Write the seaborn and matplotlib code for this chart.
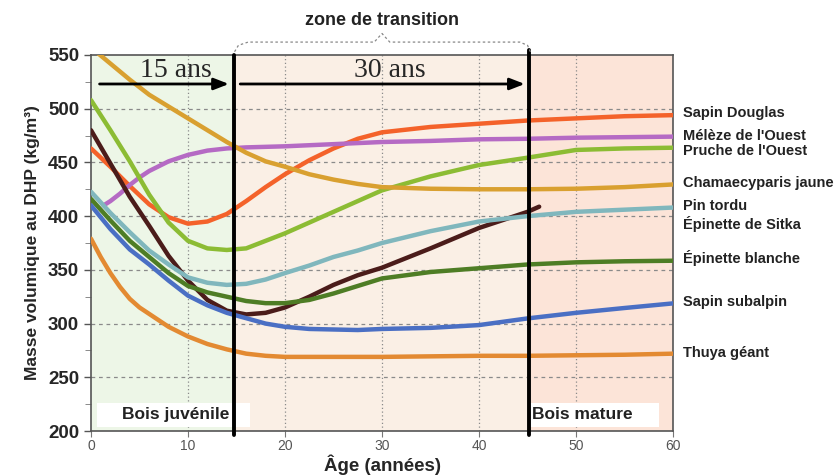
import pandas as pd
import matplotlib as mpl
import matplotlib.pyplot as plt
import numpy as np
import seaborn as sns
from matplotlib.patches import Rectangle
from matplotlib.ticker import MultipleLocator

sns.set_style("ticks")
plt.rcParams['font.family'] = ['Liberation Sans', 'DejaVu Sans']

# values (age in years, density in kg/m3)
age = [0, 2, 4, 6, 8, 10, 12, 14, 16, 18, 20, 22.5, 25, 27.5, 30, 35, 40, 45, 50, 55, 60]
douglas = [463, 446, 428, 411, 399, 393, 395, 402, 414, 427, 439, 452, 463, 472, 478, 483, 486, 489, 491, 493, 494]
pruche = [508, 480, 451, 420, 394, 377, 370, 368.5, 370, 377, 384, 394, 404, 414, 424, 437, 447.6, 454.4, 461.6, 463, 463.7]
chamae = [557, 542, 527, 513, 502, 491, 480, 469, 459, 451, 446, 439, 434, 430, 427, 425.5, 425, 425, 425.5, 427, 429.5]
sitka = [422.7, 403, 385, 368, 355, 343, 338, 336, 337, 341, 347, 354, 362, 368, 375, 386, 395, 400, 404, 406, 408]
blanche = [416, 396, 377, 362, 347, 335, 329, 325, 321, 319, 319, 322, 328, 335, 342, 348, 351.5, 355, 357, 358, 358.5]
subalpin = [410, 388, 369, 355, 340, 326, 317, 310, 305, 300, 297, 295, 294.5, 294, 295, 296, 298.6, 304.8, 310, 314.5, 318.8]

meleze_age = [1.3, 2, 3, 4, 5, 6, 8, 10, 12, 14, 16, 18, 20, 25, 30, 35, 40, 45, 50, 55, 60]
meleze = [410, 414, 421, 429, 436, 442, 451, 457, 461, 463, 464, 464.5, 465, 467, 469, 470, 471.5, 472, 473, 473.5, 474]

pin_age = [0, 2, 4, 6, 8, 10, 12, 14, 16, 18, 20, 22.5, 25, 27.5, 30, 35, 40, 45, 46.2]
pin = [480, 449, 418, 391, 363, 340, 322, 312, 308.5, 310, 315, 325, 336, 345, 352, 370, 389, 404, 408.8]

thuya_age = [0, 1, 2, 3, 4, 5, 6, 8, 10, 12, 14, 16, 18, 20, 25, 30, 35, 40, 45, 50, 55, 60]
thuya = [379, 362, 347, 334, 323, 315, 309, 297, 288, 281, 276, 272, 270, 269, 269, 269, 269.5, 270, 270, 270.5, 271, 272]

species = ["Sapin Douglas", "Mélèze de l'Ouest", "Pruche de l'Ouest", "Chamaecyparis jaune",
           "Pin tordu", "Épinette de Sitka", "Épinette blanche", "Sapin subalpin", "Thuya géant"]

series = {
    "Sapin Douglas": (age, douglas),
    "Mélèze de l'Ouest": (meleze_age, meleze),
    "Pruche de l'Ouest": (age, pruche),
    "Chamaecyparis jaune": (age, chamae),
    "Pin tordu": (pin_age, pin),
    "Épinette de Sitka": (age, sitka),
    "Épinette blanche": (age, blanche),
    "Sapin subalpin": (age, subalpin),
    "Thuya géant": (thuya_age, thuya),
}
colors = {
    "Sapin Douglas": "#f4622a",
    "Mélèze de l'Ouest": "#b56ac4",
    "Pruche de l'Ouest": "#8cbc34",
    "Chamaecyparis jaune": "#d9a030",
    "Pin tordu": "#4b1c1a",
    "Épinette de Sitka": "#80b7bd",
    "Épinette blanche": "#4e7d25",
    "Sapin subalpin": "#4a6fc4",
    "Thuya géant": "#e38a32",
}

rows = []
for name in species:
    xs, ys = series[name]
    for x, y in zip(xs, ys):
        rows.append({"age": x, "densite": y, "espece": name})
df = pd.DataFrame(rows)

fig = plt.figure(figsize=(8.37, 4.76), dpi=100)
ax = fig.add_axes([0.1087, 0.0945, 0.6954, 0.79])

# zones
ax.axvspan(0, 14.7, color="#edf6e7", lw=0, zorder=0)
ax.axvspan(14.7, 45.2, color="#faefe5", lw=0, zorder=0)
ax.axvspan(45.2, 60, color="#fce4d8", lw=0, zorder=0)

for yy in range(250, 550, 50):
    ax.axhline(yy, color="#8a8a8a", lw=0.9, ls=(0, (3, 3)), zorder=1)
for xx in range(10, 60, 10):
    ax.axvline(xx, color="#8a8a8a", lw=0.9, ls=(0, (1, 2)), zorder=1)

sns.lineplot(data=df, x="age", y="densite", hue="espece", hue_order=species,
             palette=colors, lw=3.2, legend=False, ax=ax, sort=False, zorder=3)

ax.set_xlim(0, 60)
ax.set_ylim(200, 550)
ax.xaxis.set_major_locator(MultipleLocator(10))
ax.yaxis.set_major_locator(MultipleLocator(50))
ax.yaxis.set_minor_locator(MultipleLocator(25))
ax.tick_params(axis="y", labelsize=13.5, length=5, width=1, color="#555")
ax.tick_params(axis="y", which="minor", length=4, color="#777")
ax.tick_params(axis="x", labelsize=10, length=4, color="#777", labelcolor="#555", pad=2)
for lab in ax.get_yticklabels():
    lab.set_fontweight("bold")
for sp in ax.spines.values():
    sp.set_visible(True)
    sp.set_color("#555")
    sp.set_linewidth(1.2)

ax.set_xlabel("Âge (années)", fontsize=13.5, fontweight="bold", labelpad=1)
ax.set_ylabel("Masse volumique au DHP (kg/m³)", fontsize=12.5, fontweight="bold", labelpad=6)

# species labels on the right
label_y = [496, 474.6, 460.6, 430.8, 409.4, 392.7, 361, 320, 272.5]
for name, yy in zip(species, label_y):
    ax.text(61.0, yy, name, fontsize=10.5, fontweight="bold", va="center", ha="left",
            color="#222", clip_on=False)

# zone boxes
ax.add_patch(Rectangle((0.6, 204), 15.8, 22, fc="white", ec="none", zorder=4))
ax.text(3.2, 215.5, "Bois juvénile", fontsize=12.5, fontweight="bold", va="center", color="#222", zorder=5)
ax.add_patch(Rectangle((45.3, 204), 13.3, 22, fc="white", ec="none", zorder=4))
ax.text(45.5, 215.5, "Bois mature", fontsize=12.5, fontweight="bold", va="center", color="#222", zorder=5)

# transition limits
ax.plot([14.7, 14.7], [196, 550], color="black", lw=2.8, clip_on=False, zorder=6)
ax.plot([45.2, 45.2], [196, 555], color="black", lw=2.8, clip_on=False, zorder=6)

ax.annotate("", xy=(14.5, 523), xytext=(0.6, 523),
            arrowprops=dict(arrowstyle="-|>,head_length=0.9,head_width=0.35", color="black", lw=2),
            zorder=7)
ax.annotate("", xy=(45.0, 523), xytext=(15.1, 523),
            arrowprops=dict(arrowstyle="-|>,head_length=0.9,head_width=0.35", color="black", lw=2),
            zorder=7)
ax.text(8.7, 536, "15 ans", family="Liberation Serif", fontsize=20, ha="center", va="center", zorder=7)
ax.text(30.8, 536, "30 ans", family="Liberation Serif", fontsize=20, ha="center", va="center", zorder=7)

# brace for transition zone
bx = [14.8, 15.2, 16.2, 29.2, 30.0, 30.8, 44.2, 45.0, 45.3]
by = [553, 559, 562, 562, 570, 562, 562, 559, 553]
ax.plot(bx, by, color="#888", lw=0.9, ls=(0, (2, 2)), clip_on=False, zorder=6)
ax.text(30.0, 582, "zone de transition", fontsize=13, fontweight="bold", ha="center",
        va="center", color="#222", clip_on=False)

plt.savefig("out.png", dpi=100)
